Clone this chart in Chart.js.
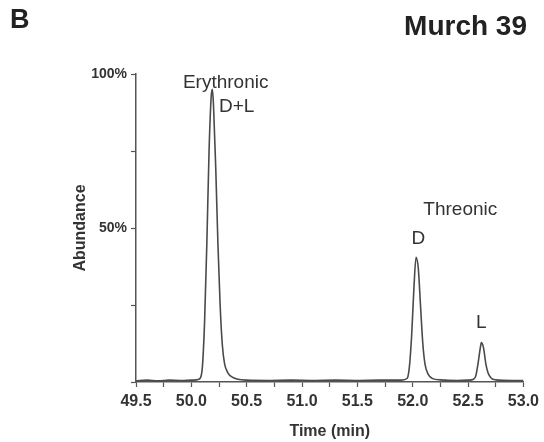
<!DOCTYPE html>
<html>
<head>
<meta charset="utf-8">
<script src="https://cdn.jsdelivr.net/npm/chart.js@4.4.1/dist/chart.umd.min.js"></script>
<style>
  html, body { margin: 0; padding: 0; background: #ffffff; }
  #wrap { position: relative; width: 544px; height: 442px; }
  canvas { display: block; }
</style>
</head>
<body>
<div id="wrap"><canvas id="c" width="544" height="442"></canvas></div>
<script>
// ---- data ----
const panelLabel = "B";
const sampleTitle = "Murch 39";
const xTitle = "Time (min)";
const yTitle = "Abundance";
const timeMin = [
  49.50, 49.60, 49.70, 49.80, 49.90, 50.00, 50.05, 50.08, 50.10, 50.12,
  50.14, 50.16, 50.18, 50.19, 50.20, 50.22, 50.24, 50.26, 50.28, 50.30,
  50.33, 50.37, 50.42, 50.50, 50.70, 50.90, 51.10, 51.30, 51.50, 51.70,
  51.90, 51.95, 51.97, 51.99, 52.01, 52.03, 52.05, 52.07, 52.09, 52.11,
  52.14, 52.18, 52.25, 52.40, 52.50, 52.55, 52.57, 52.59, 52.61, 52.62,
  52.64, 52.66, 52.68, 52.71, 52.75, 52.90, 53.00
];
const abundance = [
  0.4, 0.6, 0.4, 0.6, 0.5, 0.6, 0.7, 1.2, 5, 20,
  45, 75, 93, 95, 90, 70, 45, 25, 12, 6,
  3, 1.6, 0.9, 0.6, 0.5, 0.6, 0.5, 0.6, 0.5, 0.6,
  0.6, 1.2, 5, 15, 30, 40.5, 37, 25, 13, 6,
  2.5, 1.1, 0.7, 0.5, 0.6, 0.9, 2, 6, 11, 12.8,
  11, 6, 3, 1.2, 0.7, 0.5, 0.5
];
const xTicks = [49.5, 50.0, 50.5, 51.0, 51.5, 52.0, 52.5, 53.0];
const yTickLabels = { 50: "50%", 100: "100%" };
const peakLabels = [
  { text: "Erythronic", x: 50.31, y: 97 },
  { text: "D+L",        x: 50.41, y: 89.5 },
  { text: "Threonic",   x: 52.43, y: 56 },
  { text: "D",          x: 52.05, y: 46.5 },
  { text: "L",          x: 52.62, y: 19.2 }
];

const textColor = "#333333";
const lineColor = "#4a4a4a";
const FONT = "'Liberation Sans', Arial, sans-serif";

const overlay = {
  id: "overlay",
  afterDraw(chart) {
    const ctx = chart.ctx;
    const xs = chart.scales.x, ys = chart.scales.y;
    ctx.save();
    ctx.fillStyle = "#222222";
    ctx.textBaseline = "middle";
    ctx.font = "bold 27px " + FONT;
    ctx.textAlign = "left";
    ctx.fillText(panelLabel, 10, 21);
    ctx.font = "bold 28px " + FONT;
    ctx.textAlign = "right";
    ctx.fillText(sampleTitle, 527, 27);
    ctx.fillStyle = textColor;
    ctx.font = "19px " + FONT;
    ctx.textAlign = "center";
    peakLabels.forEach(p => {
      ctx.fillText(p.text, xs.getPixelForValue(p.x), ys.getPixelForValue(p.y));
    });
    ctx.restore();
  }
};

new Chart(document.getElementById("c"), {
  type: "line",
  data: {
    datasets: [{
      data: timeMin.map((t, i) => ({ x: t, y: abundance[i] })),
      borderColor: lineColor,
      borderWidth: 1.6,
      pointRadius: 0,
      cubicInterpolationMode: "monotone",
      fill: false
    }]
  },
  options: {
    responsive: false,
    animation: false,
    layout: { padding: { left: 0, right: 20, top: 74, bottom: 0 } },
    plugins: { legend: { display: false }, tooltip: { enabled: false } },
    scales: {
      x: {
        type: "linear",
        min: 49.5, max: 53.0,
        afterFit(s) { s.height = 60; },
        afterBuildTicks(s) {
          const t = [];
          for (let v = 49.5; v <= 53.0001; v += 0.25) t.push({ value: Math.round(v * 100) / 100 });
          s.ticks = t;
        },
        border: { display: true, color: "#555", width: 1.5 },
        grid: {
          drawOnChartArea: false, drawTicks: true,
          tickLength: 5,
          tickColor: "#555",
          tickWidth: 1.2
        },
        ticks: {
          autoSkip: false, maxRotation: 0, padding: 5,
          color: textColor,
          font: { family: FONT, size: 16, weight: "bold" },
          callback: v => (xTicks.includes(Math.round(v * 100) / 100) ? v.toFixed(1) : "")
        },
        title: {
          display: true, text: xTitle, color: textColor,
          font: { family: FONT, size: 16, weight: "bold" },
          padding: { top: 0, bottom: 1 }
        }
      },
      y: {
        min: 0, max: 100,
        afterFit(s) { s.width = 136; },
        afterBuildTicks(s) { s.ticks = [0, 25, 50, 75, 100].map(v => ({ value: v })); },
        border: { display: true, color: "#555", width: 1.5 },
        grid: {
          drawOnChartArea: false, drawTicks: true,
          tickLength: 5,
          tickColor: "#555",
          tickWidth: 1.2
        },
        ticks: {
          padding: 4,
          color: textColor,
          font: { family: FONT, size: 14, weight: "bold" },
          callback: v => yTickLabels[v] || ""
        },
        title: {
          display: true, text: yTitle, color: textColor,
          font: { family: FONT, size: 16, weight: "bold" },
          padding: { top: 71, bottom: 0 }
        }
      }
    }
  },
  plugins: [overlay]
});
</script>
</body>
</html>
